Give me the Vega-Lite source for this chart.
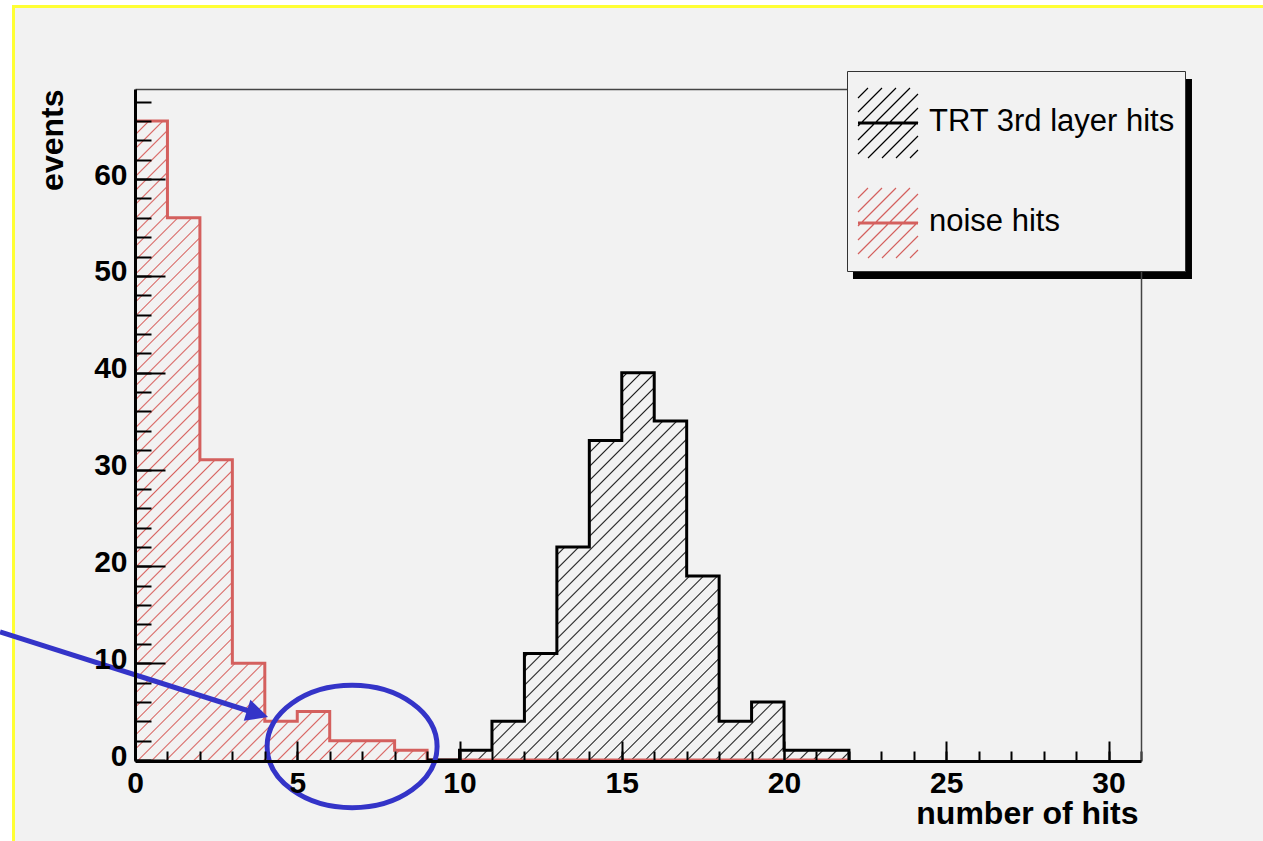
{
  "$schema": "https://vega.github.io/schema/vega-lite/v6.json",
  "width": 1006,
  "height": 671,
  "autosize": "none",
  "padding": {"left": 135, "top": 89, "right": 122, "bottom": 81},
  "background": "#ffffff",
  "config": {"view": {"stroke": null}, "font": "Liberation Sans"},
  "datasets": {
    "hist": [
      {"series": "noise hits", "bin": 0, "count": 66},
      {"series": "noise hits", "bin": 1, "count": 56},
      {"series": "noise hits", "bin": 2, "count": 31},
      {"series": "noise hits", "bin": 3, "count": 10},
      {"series": "noise hits", "bin": 4, "count": 4},
      {"series": "noise hits", "bin": 5, "count": 5},
      {"series": "noise hits", "bin": 6, "count": 2},
      {"series": "noise hits", "bin": 7, "count": 2},
      {"series": "noise hits", "bin": 8, "count": 1},
      {"series": "noise hits", "bin": 9, "count": 0},
      {"series": "noise hits", "bin": 10, "count": 0},
      {"series": "noise hits", "bin": 11, "count": 0},
      {"series": "noise hits", "bin": 12, "count": 0},
      {"series": "noise hits", "bin": 13, "count": 0},
      {"series": "noise hits", "bin": 14, "count": 0},
      {"series": "noise hits", "bin": 15, "count": 0},
      {"series": "noise hits", "bin": 16, "count": 0},
      {"series": "noise hits", "bin": 17, "count": 0},
      {"series": "noise hits", "bin": 18, "count": 0},
      {"series": "noise hits", "bin": 19, "count": 0},
      {"series": "noise hits", "bin": 20, "count": 0},
      {"series": "noise hits", "bin": 21, "count": 0},
      {"series": "noise hits", "bin": 22, "count": 0},
      {"series": "TRT 3rd layer hits", "bin": 9, "count": 0},
      {"series": "TRT 3rd layer hits", "bin": 10, "count": 1},
      {"series": "TRT 3rd layer hits", "bin": 11, "count": 4},
      {"series": "TRT 3rd layer hits", "bin": 12, "count": 11},
      {"series": "TRT 3rd layer hits", "bin": 13, "count": 22},
      {"series": "TRT 3rd layer hits", "bin": 14, "count": 33},
      {"series": "TRT 3rd layer hits", "bin": 15, "count": 40},
      {"series": "TRT 3rd layer hits", "bin": 16, "count": 35},
      {"series": "TRT 3rd layer hits", "bin": 17, "count": 19},
      {"series": "TRT 3rd layer hits", "bin": 18, "count": 4},
      {"series": "TRT 3rd layer hits", "bin": 19, "count": 6},
      {"series": "TRT 3rd layer hits", "bin": 20, "count": 1},
      {"series": "TRT 3rd layer hits", "bin": 21, "count": 1},
      {"series": "TRT 3rd layer hits", "bin": 22, "count": 0}
    ]
  },
  "data": {"name": "hist"},
  "resolve": {"axis": {"x": "independent", "y": "independent"}},
  "layer": [
    {
      "data": {"values": [{}]},
      "mark": {"type": "rect", "fill": "#f2f2f2", "stroke": "#ffff33", "strokeWidth": 3, "clip": false},
      "encoding": {
        "x": {"datum": -3.744, "type": "quantitative", "scale": {"domain": [0, 31], "nice": false, "zero": false}, "axis": null},
        "x2": {"datum": 35.9},
        "y": {"datum": 77.82, "type": "quantitative", "scale": {"domain": [0, 69.3], "nice": false, "zero": false}, "axis": null},
        "y2": {"datum": -14.46}
      }
    },
    {
      "data": {"values": [{}]},
      "mark": {"type": "rect", "fill": "#000000", "clip": false},
      "encoding": {
        "x": {"datum": 22.125, "type": "quantitative", "scale": {"domain": [0, 31], "nice": false, "zero": false}, "axis": null},
        "x2": {"datum": 32.571},
        "y": {"datum": 70.33, "type": "quantitative", "scale": {"domain": [0, 69.3], "nice": false, "zero": false}, "axis": null},
        "y2": {"datum": 49.68}
      }
    },
    {
      "transform": [{"filter": "datum.series === 'noise hits' && datum.bin <= 9"}],
      "mark": {
        "type": "area",
        "interpolate": "step-after",
        "fill": {
          "gradient": "linear", "x1": 0, "y1": 0, "x2": 0.55084, "y2": 1.20528,
          "stops": [
            {"offset": 0, "color": "#f2f2f2"},
            {"offset": 0.0134, "color": "#f2f2f2"}, {"offset": 0.015, "color": "#d8625f"}, {"offset": 0.0166, "color": "#f2f2f2"},
            {"offset": 0.0284, "color": "#f2f2f2"}, {"offset": 0.03, "color": "#d8625f"}, {"offset": 0.0316, "color": "#f2f2f2"},
            {"offset": 0.0434, "color": "#f2f2f2"}, {"offset": 0.045, "color": "#d8625f"}, {"offset": 0.0466, "color": "#f2f2f2"},
            {"offset": 0.0584, "color": "#f2f2f2"}, {"offset": 0.06, "color": "#d8625f"}, {"offset": 0.0616, "color": "#f2f2f2"},
            {"offset": 0.0734, "color": "#f2f2f2"}, {"offset": 0.075, "color": "#d8625f"}, {"offset": 0.0766, "color": "#f2f2f2"},
            {"offset": 0.0884, "color": "#f2f2f2"}, {"offset": 0.09, "color": "#d8625f"}, {"offset": 0.0916, "color": "#f2f2f2"},
            {"offset": 0.1034, "color": "#f2f2f2"}, {"offset": 0.105, "color": "#d8625f"}, {"offset": 0.1066, "color": "#f2f2f2"},
            {"offset": 0.1184, "color": "#f2f2f2"}, {"offset": 0.12, "color": "#d8625f"}, {"offset": 0.1216, "color": "#f2f2f2"},
            {"offset": 0.1334, "color": "#f2f2f2"}, {"offset": 0.135, "color": "#d8625f"}, {"offset": 0.1366, "color": "#f2f2f2"},
            {"offset": 0.1484, "color": "#f2f2f2"}, {"offset": 0.15, "color": "#d8625f"}, {"offset": 0.1516, "color": "#f2f2f2"},
            {"offset": 0.1634, "color": "#f2f2f2"}, {"offset": 0.165, "color": "#d8625f"}, {"offset": 0.1666, "color": "#f2f2f2"},
            {"offset": 0.1784, "color": "#f2f2f2"}, {"offset": 0.18, "color": "#d8625f"}, {"offset": 0.1816, "color": "#f2f2f2"},
            {"offset": 0.1934, "color": "#f2f2f2"}, {"offset": 0.195, "color": "#d8625f"}, {"offset": 0.1966, "color": "#f2f2f2"},
            {"offset": 0.2084, "color": "#f2f2f2"}, {"offset": 0.21, "color": "#d8625f"}, {"offset": 0.2116, "color": "#f2f2f2"},
            {"offset": 0.2234, "color": "#f2f2f2"}, {"offset": 0.225, "color": "#d8625f"}, {"offset": 0.2266, "color": "#f2f2f2"},
            {"offset": 0.2384, "color": "#f2f2f2"}, {"offset": 0.24, "color": "#d8625f"}, {"offset": 0.2416, "color": "#f2f2f2"},
            {"offset": 0.2534, "color": "#f2f2f2"}, {"offset": 0.255, "color": "#d8625f"}, {"offset": 0.2566, "color": "#f2f2f2"},
            {"offset": 0.2684, "color": "#f2f2f2"}, {"offset": 0.27, "color": "#d8625f"}, {"offset": 0.2716, "color": "#f2f2f2"},
            {"offset": 0.2834, "color": "#f2f2f2"}, {"offset": 0.285, "color": "#d8625f"}, {"offset": 0.2866, "color": "#f2f2f2"},
            {"offset": 0.2984, "color": "#f2f2f2"}, {"offset": 0.3, "color": "#d8625f"}, {"offset": 0.3016, "color": "#f2f2f2"},
            {"offset": 0.3134, "color": "#f2f2f2"}, {"offset": 0.315, "color": "#d8625f"}, {"offset": 0.3166, "color": "#f2f2f2"},
            {"offset": 0.3284, "color": "#f2f2f2"}, {"offset": 0.33, "color": "#d8625f"}, {"offset": 0.3316, "color": "#f2f2f2"},
            {"offset": 0.3434, "color": "#f2f2f2"}, {"offset": 0.345, "color": "#d8625f"}, {"offset": 0.3466, "color": "#f2f2f2"},
            {"offset": 0.3584, "color": "#f2f2f2"}, {"offset": 0.36, "color": "#d8625f"}, {"offset": 0.3616, "color": "#f2f2f2"},
            {"offset": 0.3734, "color": "#f2f2f2"}, {"offset": 0.375, "color": "#d8625f"}, {"offset": 0.3766, "color": "#f2f2f2"},
            {"offset": 0.3884, "color": "#f2f2f2"}, {"offset": 0.39, "color": "#d8625f"}, {"offset": 0.3916, "color": "#f2f2f2"},
            {"offset": 0.4034, "color": "#f2f2f2"}, {"offset": 0.405, "color": "#d8625f"}, {"offset": 0.4066, "color": "#f2f2f2"},
            {"offset": 0.4184, "color": "#f2f2f2"}, {"offset": 0.42, "color": "#d8625f"}, {"offset": 0.4216, "color": "#f2f2f2"},
            {"offset": 0.4334, "color": "#f2f2f2"}, {"offset": 0.435, "color": "#d8625f"}, {"offset": 0.4366, "color": "#f2f2f2"},
            {"offset": 0.4484, "color": "#f2f2f2"}, {"offset": 0.45, "color": "#d8625f"}, {"offset": 0.4516, "color": "#f2f2f2"},
            {"offset": 0.4634, "color": "#f2f2f2"}, {"offset": 0.465, "color": "#d8625f"}, {"offset": 0.4666, "color": "#f2f2f2"},
            {"offset": 0.4784, "color": "#f2f2f2"}, {"offset": 0.48, "color": "#d8625f"}, {"offset": 0.4816, "color": "#f2f2f2"},
            {"offset": 0.4934, "color": "#f2f2f2"}, {"offset": 0.495, "color": "#d8625f"}, {"offset": 0.4966, "color": "#f2f2f2"},
            {"offset": 0.5084, "color": "#f2f2f2"}, {"offset": 0.51, "color": "#d8625f"}, {"offset": 0.5116, "color": "#f2f2f2"},
            {"offset": 0.5234, "color": "#f2f2f2"}, {"offset": 0.525, "color": "#d8625f"}, {"offset": 0.5266, "color": "#f2f2f2"},
            {"offset": 0.5384, "color": "#f2f2f2"}, {"offset": 0.54, "color": "#d8625f"}, {"offset": 0.5416, "color": "#f2f2f2"},
            {"offset": 0.5534, "color": "#f2f2f2"}, {"offset": 0.555, "color": "#d8625f"}, {"offset": 0.5566, "color": "#f2f2f2"},
            {"offset": 0.5684, "color": "#f2f2f2"}, {"offset": 0.57, "color": "#d8625f"}, {"offset": 0.5716, "color": "#f2f2f2"},
            {"offset": 0.5834, "color": "#f2f2f2"}, {"offset": 0.585, "color": "#d8625f"}, {"offset": 0.5866, "color": "#f2f2f2"},
            {"offset": 0.5984, "color": "#f2f2f2"}, {"offset": 0.6, "color": "#d8625f"}, {"offset": 0.6016, "color": "#f2f2f2"},
            {"offset": 0.6134, "color": "#f2f2f2"}, {"offset": 0.615, "color": "#d8625f"}, {"offset": 0.6166, "color": "#f2f2f2"},
            {"offset": 0.6284, "color": "#f2f2f2"}, {"offset": 0.63, "color": "#d8625f"}, {"offset": 0.6316, "color": "#f2f2f2"},
            {"offset": 0.6434, "color": "#f2f2f2"}, {"offset": 0.645, "color": "#d8625f"}, {"offset": 0.6466, "color": "#f2f2f2"},
            {"offset": 0.6584, "color": "#f2f2f2"}, {"offset": 0.66, "color": "#d8625f"}, {"offset": 0.6616, "color": "#f2f2f2"},
            {"offset": 0.6734, "color": "#f2f2f2"}, {"offset": 0.675, "color": "#d8625f"}, {"offset": 0.6766, "color": "#f2f2f2"},
            {"offset": 0.6884, "color": "#f2f2f2"}, {"offset": 0.69, "color": "#d8625f"}, {"offset": 0.6916, "color": "#f2f2f2"},
            {"offset": 0.7034, "color": "#f2f2f2"}, {"offset": 0.705, "color": "#d8625f"}, {"offset": 0.7066, "color": "#f2f2f2"},
            {"offset": 0.7184, "color": "#f2f2f2"}, {"offset": 0.72, "color": "#d8625f"}, {"offset": 0.7216, "color": "#f2f2f2"},
            {"offset": 0.7334, "color": "#f2f2f2"}, {"offset": 0.735, "color": "#d8625f"}, {"offset": 0.7366, "color": "#f2f2f2"},
            {"offset": 0.7484, "color": "#f2f2f2"}, {"offset": 0.75, "color": "#d8625f"}, {"offset": 0.7516, "color": "#f2f2f2"},
            {"offset": 0.7634, "color": "#f2f2f2"}, {"offset": 0.765, "color": "#d8625f"}, {"offset": 0.7666, "color": "#f2f2f2"},
            {"offset": 0.7784, "color": "#f2f2f2"}, {"offset": 0.78, "color": "#d8625f"}, {"offset": 0.7816, "color": "#f2f2f2"},
            {"offset": 0.7934, "color": "#f2f2f2"}, {"offset": 0.795, "color": "#d8625f"}, {"offset": 0.7966, "color": "#f2f2f2"},
            {"offset": 0.8084, "color": "#f2f2f2"}, {"offset": 0.81, "color": "#d8625f"}, {"offset": 0.8116, "color": "#f2f2f2"},
            {"offset": 0.8234, "color": "#f2f2f2"}, {"offset": 0.825, "color": "#d8625f"}, {"offset": 0.8266, "color": "#f2f2f2"},
            {"offset": 0.8384, "color": "#f2f2f2"}, {"offset": 0.84, "color": "#d8625f"}, {"offset": 0.8416, "color": "#f2f2f2"},
            {"offset": 0.8534, "color": "#f2f2f2"}, {"offset": 0.855, "color": "#d8625f"}, {"offset": 0.8566, "color": "#f2f2f2"},
            {"offset": 0.8684, "color": "#f2f2f2"}, {"offset": 0.87, "color": "#d8625f"}, {"offset": 0.8716, "color": "#f2f2f2"},
            {"offset": 0.8834, "color": "#f2f2f2"}, {"offset": 0.885, "color": "#d8625f"}, {"offset": 0.8866, "color": "#f2f2f2"},
            {"offset": 0.8984, "color": "#f2f2f2"}, {"offset": 0.9, "color": "#d8625f"}, {"offset": 0.9016, "color": "#f2f2f2"},
            {"offset": 0.9134, "color": "#f2f2f2"}, {"offset": 0.915, "color": "#d8625f"}, {"offset": 0.9166, "color": "#f2f2f2"},
            {"offset": 0.9284, "color": "#f2f2f2"}, {"offset": 0.93, "color": "#d8625f"}, {"offset": 0.9316, "color": "#f2f2f2"},
            {"offset": 0.9434, "color": "#f2f2f2"}, {"offset": 0.945, "color": "#d8625f"}, {"offset": 0.9466, "color": "#f2f2f2"},
            {"offset": 0.9584, "color": "#f2f2f2"}, {"offset": 0.96, "color": "#d8625f"}, {"offset": 0.9616, "color": "#f2f2f2"},
            {"offset": 0.9734, "color": "#f2f2f2"}, {"offset": 0.975, "color": "#d8625f"}, {"offset": 0.9766, "color": "#f2f2f2"},
            {"offset": 0.9884, "color": "#f2f2f2"}, {"offset": 0.99, "color": "#d8625f"}, {"offset": 0.9916, "color": "#f2f2f2"},
            {"offset": 1, "color": "#f2f2f2"}
          ]
        }
      },
      "encoding": {
        "x": {"field": "bin", "type": "quantitative", "scale": {"domain": [0, 31], "nice": false, "zero": false},
          "axis": {"orient": "top", "domain": true, "domainColor": "#444444", "domainWidth": 1.5, "ticks": false, "labels": false, "title": null, "grid": false, "zindex": 1}},
        "y": {"field": "count", "type": "quantitative", "scale": {"domain": [0, 69.3], "nice": false, "zero": false},
          "axis": {"orient": "right", "domain": true, "domainColor": "#444444", "domainWidth": 1.5, "ticks": false, "labels": false, "title": null, "grid": false, "zindex": 1}}
      }
    },
    {
      "transform": [{"filter": "datum.series === 'TRT 3rd layer hits' && datum.bin >= 10"}],
      "mark": {
        "type": "area",
        "interpolate": "step-after",
        "fill": {
          "gradient": "linear", "x1": 0, "y1": 0, "x2": 1.00273, "y2": 0.99726,
          "stops": [
            {"offset": 0, "color": "#f2f2f2"},
            {"offset": 0.0161, "color": "#f2f2f2"}, {"offset": 0.018, "color": "#1a1a1a"}, {"offset": 0.0199, "color": "#f2f2f2"},
            {"offset": 0.0341, "color": "#f2f2f2"}, {"offset": 0.036, "color": "#1a1a1a"}, {"offset": 0.0379, "color": "#f2f2f2"},
            {"offset": 0.0521, "color": "#f2f2f2"}, {"offset": 0.054, "color": "#1a1a1a"}, {"offset": 0.0559, "color": "#f2f2f2"},
            {"offset": 0.0701, "color": "#f2f2f2"}, {"offset": 0.072, "color": "#1a1a1a"}, {"offset": 0.0739, "color": "#f2f2f2"},
            {"offset": 0.0881, "color": "#f2f2f2"}, {"offset": 0.09, "color": "#1a1a1a"}, {"offset": 0.0919, "color": "#f2f2f2"},
            {"offset": 0.1061, "color": "#f2f2f2"}, {"offset": 0.108, "color": "#1a1a1a"}, {"offset": 0.1099, "color": "#f2f2f2"},
            {"offset": 0.1241, "color": "#f2f2f2"}, {"offset": 0.126, "color": "#1a1a1a"}, {"offset": 0.1279, "color": "#f2f2f2"},
            {"offset": 0.1421, "color": "#f2f2f2"}, {"offset": 0.144, "color": "#1a1a1a"}, {"offset": 0.1459, "color": "#f2f2f2"},
            {"offset": 0.1601, "color": "#f2f2f2"}, {"offset": 0.162, "color": "#1a1a1a"}, {"offset": 0.1639, "color": "#f2f2f2"},
            {"offset": 0.1781, "color": "#f2f2f2"}, {"offset": 0.18, "color": "#1a1a1a"}, {"offset": 0.1819, "color": "#f2f2f2"},
            {"offset": 0.1961, "color": "#f2f2f2"}, {"offset": 0.198, "color": "#1a1a1a"}, {"offset": 0.1999, "color": "#f2f2f2"},
            {"offset": 0.2141, "color": "#f2f2f2"}, {"offset": 0.216, "color": "#1a1a1a"}, {"offset": 0.2179, "color": "#f2f2f2"},
            {"offset": 0.2321, "color": "#f2f2f2"}, {"offset": 0.234, "color": "#1a1a1a"}, {"offset": 0.2359, "color": "#f2f2f2"},
            {"offset": 0.2501, "color": "#f2f2f2"}, {"offset": 0.252, "color": "#1a1a1a"}, {"offset": 0.2539, "color": "#f2f2f2"},
            {"offset": 0.2681, "color": "#f2f2f2"}, {"offset": 0.27, "color": "#1a1a1a"}, {"offset": 0.2719, "color": "#f2f2f2"},
            {"offset": 0.2861, "color": "#f2f2f2"}, {"offset": 0.288, "color": "#1a1a1a"}, {"offset": 0.2899, "color": "#f2f2f2"},
            {"offset": 0.3041, "color": "#f2f2f2"}, {"offset": 0.306, "color": "#1a1a1a"}, {"offset": 0.3079, "color": "#f2f2f2"},
            {"offset": 0.3221, "color": "#f2f2f2"}, {"offset": 0.324, "color": "#1a1a1a"}, {"offset": 0.3259, "color": "#f2f2f2"},
            {"offset": 0.3401, "color": "#f2f2f2"}, {"offset": 0.342, "color": "#1a1a1a"}, {"offset": 0.3439, "color": "#f2f2f2"},
            {"offset": 0.3581, "color": "#f2f2f2"}, {"offset": 0.36, "color": "#1a1a1a"}, {"offset": 0.3619, "color": "#f2f2f2"},
            {"offset": 0.3761, "color": "#f2f2f2"}, {"offset": 0.378, "color": "#1a1a1a"}, {"offset": 0.3799, "color": "#f2f2f2"},
            {"offset": 0.3941, "color": "#f2f2f2"}, {"offset": 0.396, "color": "#1a1a1a"}, {"offset": 0.3979, "color": "#f2f2f2"},
            {"offset": 0.4121, "color": "#f2f2f2"}, {"offset": 0.414, "color": "#1a1a1a"}, {"offset": 0.4159, "color": "#f2f2f2"},
            {"offset": 0.4301, "color": "#f2f2f2"}, {"offset": 0.432, "color": "#1a1a1a"}, {"offset": 0.4339, "color": "#f2f2f2"},
            {"offset": 0.4481, "color": "#f2f2f2"}, {"offset": 0.45, "color": "#1a1a1a"}, {"offset": 0.4519, "color": "#f2f2f2"},
            {"offset": 0.4661, "color": "#f2f2f2"}, {"offset": 0.468, "color": "#1a1a1a"}, {"offset": 0.4699, "color": "#f2f2f2"},
            {"offset": 0.4841, "color": "#f2f2f2"}, {"offset": 0.486, "color": "#1a1a1a"}, {"offset": 0.4879, "color": "#f2f2f2"},
            {"offset": 0.5021, "color": "#f2f2f2"}, {"offset": 0.504, "color": "#1a1a1a"}, {"offset": 0.5059, "color": "#f2f2f2"},
            {"offset": 0.5201, "color": "#f2f2f2"}, {"offset": 0.522, "color": "#1a1a1a"}, {"offset": 0.5239, "color": "#f2f2f2"},
            {"offset": 0.5381, "color": "#f2f2f2"}, {"offset": 0.54, "color": "#1a1a1a"}, {"offset": 0.5419, "color": "#f2f2f2"},
            {"offset": 0.5561, "color": "#f2f2f2"}, {"offset": 0.558, "color": "#1a1a1a"}, {"offset": 0.5599, "color": "#f2f2f2"},
            {"offset": 0.5741, "color": "#f2f2f2"}, {"offset": 0.576, "color": "#1a1a1a"}, {"offset": 0.5779, "color": "#f2f2f2"},
            {"offset": 0.5921, "color": "#f2f2f2"}, {"offset": 0.594, "color": "#1a1a1a"}, {"offset": 0.5959, "color": "#f2f2f2"},
            {"offset": 0.6101, "color": "#f2f2f2"}, {"offset": 0.612, "color": "#1a1a1a"}, {"offset": 0.6139, "color": "#f2f2f2"},
            {"offset": 0.6281, "color": "#f2f2f2"}, {"offset": 0.63, "color": "#1a1a1a"}, {"offset": 0.6319, "color": "#f2f2f2"},
            {"offset": 0.6461, "color": "#f2f2f2"}, {"offset": 0.648, "color": "#1a1a1a"}, {"offset": 0.6499, "color": "#f2f2f2"},
            {"offset": 0.6641, "color": "#f2f2f2"}, {"offset": 0.666, "color": "#1a1a1a"}, {"offset": 0.6679, "color": "#f2f2f2"},
            {"offset": 0.6821, "color": "#f2f2f2"}, {"offset": 0.684, "color": "#1a1a1a"}, {"offset": 0.6859, "color": "#f2f2f2"},
            {"offset": 0.7001, "color": "#f2f2f2"}, {"offset": 0.702, "color": "#1a1a1a"}, {"offset": 0.7039, "color": "#f2f2f2"},
            {"offset": 0.7181, "color": "#f2f2f2"}, {"offset": 0.72, "color": "#1a1a1a"}, {"offset": 0.7219, "color": "#f2f2f2"},
            {"offset": 0.7361, "color": "#f2f2f2"}, {"offset": 0.738, "color": "#1a1a1a"}, {"offset": 0.7399, "color": "#f2f2f2"},
            {"offset": 0.7541, "color": "#f2f2f2"}, {"offset": 0.756, "color": "#1a1a1a"}, {"offset": 0.7579, "color": "#f2f2f2"},
            {"offset": 0.7721, "color": "#f2f2f2"}, {"offset": 0.774, "color": "#1a1a1a"}, {"offset": 0.7759, "color": "#f2f2f2"},
            {"offset": 0.7901, "color": "#f2f2f2"}, {"offset": 0.792, "color": "#1a1a1a"}, {"offset": 0.7939, "color": "#f2f2f2"},
            {"offset": 0.8081, "color": "#f2f2f2"}, {"offset": 0.81, "color": "#1a1a1a"}, {"offset": 0.8119, "color": "#f2f2f2"},
            {"offset": 0.8261, "color": "#f2f2f2"}, {"offset": 0.828, "color": "#1a1a1a"}, {"offset": 0.8299, "color": "#f2f2f2"},
            {"offset": 0.8441, "color": "#f2f2f2"}, {"offset": 0.846, "color": "#1a1a1a"}, {"offset": 0.8479, "color": "#f2f2f2"},
            {"offset": 0.8621, "color": "#f2f2f2"}, {"offset": 0.864, "color": "#1a1a1a"}, {"offset": 0.8659, "color": "#f2f2f2"},
            {"offset": 0.8801, "color": "#f2f2f2"}, {"offset": 0.882, "color": "#1a1a1a"}, {"offset": 0.8839, "color": "#f2f2f2"},
            {"offset": 0.8981, "color": "#f2f2f2"}, {"offset": 0.9, "color": "#1a1a1a"}, {"offset": 0.9019, "color": "#f2f2f2"},
            {"offset": 0.9161, "color": "#f2f2f2"}, {"offset": 0.918, "color": "#1a1a1a"}, {"offset": 0.9199, "color": "#f2f2f2"},
            {"offset": 0.9341, "color": "#f2f2f2"}, {"offset": 0.936, "color": "#1a1a1a"}, {"offset": 0.9379, "color": "#f2f2f2"},
            {"offset": 0.9521, "color": "#f2f2f2"}, {"offset": 0.954, "color": "#1a1a1a"}, {"offset": 0.9559, "color": "#f2f2f2"},
            {"offset": 0.9701, "color": "#f2f2f2"}, {"offset": 0.972, "color": "#1a1a1a"}, {"offset": 0.9739, "color": "#f2f2f2"},
            {"offset": 0.9881, "color": "#f2f2f2"}, {"offset": 0.99, "color": "#1a1a1a"}, {"offset": 0.9919, "color": "#f2f2f2"},
            {"offset": 1, "color": "#f2f2f2"}
          ]
        }
      },
      "encoding": {
        "x": {"field": "bin", "type": "quantitative", "scale": {"domain": [0, 31], "nice": false, "zero": false},
          "axis": {"orient": "bottom", "offset": 1, "values": [0,1,2,3,4,5,6,7,8,9,10,11,12,13,14,15,16,17,18,19,20,21,22,23,24,25,26,27,28,29,30,31],
            "domain": false, "ticks": true, "tickSize": -10, "tickWidth": 2, "tickColor": "#000000", "labels": false, "title": null, "grid": false, "zindex": 1}},
        "y": {"field": "count", "type": "quantitative", "scale": {"domain": [0, 69.3], "nice": false, "zero": false},
          "axis": {"orient": "left", "values": [0,2,4,6,8,10,12,14,16,18,20,22,24,26,28,30,32,34,36,38,40,42,44,46,48,50,52,54,56,58,60,62,64,66,68],
            "domain": false, "ticks": true, "tickSize": -16, "tickWidth": 2, "tickColor": "#000000", "labels": false, "title": null, "grid": false, "zindex": 1}}
      }
    },
    {
      "mark": {"type": "line", "interpolate": "step-after"},
      "encoding": {
        "x": {"field": "bin", "type": "quantitative", "scale": {"domain": [0, 31], "nice": false, "zero": false},
          "axis": {"orient": "bottom", "offset": 1, "values": [0, 5, 10, 15, 20, 25, 30],
            "domain": true, "domainColor": "#000000", "domainWidth": 3,
            "ticks": true, "tickSize": -20, "tickWidth": 2, "tickColor": "#000000",
            "labels": true, "labelFont": "Liberation Sans", "labelFontWeight": "bold", "labelFontSize": 30, "labelColor": "#000000",
            "labelPadding": 27, "labelBaseline": "top", "labelAlign": "center", "labelFlush": false, "labelOverlap": false, "labelBound": false,
            "title": "number of hits", "titleFont": "Liberation Sans", "titleFontWeight": "bold", "titleFontSize": 32, "titleColor": "#000000",
            "titleAnchor": "end", "titleAlign": "right", "titleBaseline": "alphabetic", "titleX": 1003, "titleY": 62,
            "grid": false, "zindex": 1}},
        "y": {"field": "count", "type": "quantitative", "scale": {"domain": [0, 69.3], "nice": false, "zero": false},
          "axis": {"orient": "left", "values": [0, 10, 20, 30, 40, 50, 60],
            "domain": true, "domainColor": "#000000", "domainWidth": 3,
            "ticks": true, "tickSize": -30, "tickWidth": 2, "tickColor": "#000000",
            "labels": true, "labelFont": "Liberation Sans", "labelFontWeight": "bold", "labelFontSize": 30, "labelColor": "#000000",
            "labelPadding": 38, "labelAlign": "right", "labelBaseline": "middle", "labelOffset": -4, "labelOverlap": false, "labelBound": false, "labelFlush": false,
            "title": "events", "titleFont": "Liberation Sans", "titleFontWeight": "bold", "titleFontSize": 32, "titleColor": "#000000",
            "titleAngle": 270, "titleAnchor": "end", "titleAlign": "right", "titleBaseline": "alphabetic", "titleX": -73, "titleY": 0,
            "grid": false, "zindex": 1}},
        "color": {"field": "series", "type": "nominal",
          "scale": {"domain": ["TRT 3rd layer hits", "noise hits"], "range": ["#000000", "#d4605e"]},
          "legend": {"orient": "none", "legendX": 712, "legendY": -18, "direction": "vertical", "title": null,
            "padding": 10, "fillColor": "#f2f2f2", "strokeColor": "#333333",
            "labelFont": "Liberation Sans", "labelFontSize": 31, "labelColor": "#000000", "labelOffset": -10, "labelLimit": 400,
            "symbolType": "M-1 -0.6L-0.75 -0.85M-1 -0.25L-0.4 -0.85M-1 0.1L-0.05 -0.85M-1 0.45L0.3 -0.85M-1 0.8L0.5 -0.7M-0.75 0.9L0.5 -0.35M-0.4 0.9L0.5 0M-0.05 0.9L0.5 0.35M0.3 0.9L0.5 0.7M-1 0L0.5 0M-1 0.025L0.5 0.025M-1 0.05L0.5 0.05",
            "symbolSize": 6400, "symbolStrokeWidth": 1.2, "symbolFillColor": "transparent", "rowPadding": 20, "zindex": 3}},
        "strokeWidth": {"value": 3}
      }
    },
    {
      "data": {"values": [{"x": 6.69, "y": 1.39}]},
      "mark": {"type": "point", "shape": "M-1 0A1 0.72 0 1 0 1 0A1 0.72 0 1 0 -1 0Z", "size": 28900, "filled": false, "stroke": "#3434c8", "strokeWidth": 5, "opacity": 1},
      "encoding": {
        "x": {"field": "x", "type": "quantitative", "scale": {"domain": [0, 31], "nice": false, "zero": false}, "axis": null},
        "y": {"field": "y", "type": "quantitative", "scale": {"domain": [0, 69.3], "nice": false, "zero": false}, "axis": null}
      }
    },
    {
      "data": {"values": [{"x": -4.16, "y": 13.22, "x2": 3.51, "y2": 5.06}]},
      "mark": {"type": "rule", "stroke": "#3434c8", "strokeWidth": 5},
      "encoding": {
        "x": {"field": "x", "type": "quantitative", "scale": {"domain": [0, 31], "nice": false, "zero": false}, "axis": null},
        "y": {"field": "y", "type": "quantitative", "scale": {"domain": [0, 69.3], "nice": false, "zero": false}, "axis": null},
        "x2": {"field": "x2"},
        "y2": {"field": "y2"}
      }
    },
    {
      "data": {"values": [{"x": 4.1, "y": 4.44}]},
      "mark": {"type": "point", "shape": "M0 0L-1 -0.5L-1 0.5Z", "size": 1936, "filled": true, "fill": "#3434c8", "strokeWidth": 0, "angle": 17.6, "opacity": 1},
      "encoding": {
        "x": {"field": "x", "type": "quantitative", "scale": {"domain": [0, 31], "nice": false, "zero": false}, "axis": null},
        "y": {"field": "y", "type": "quantitative", "scale": {"domain": [0, 69.3], "nice": false, "zero": false}, "axis": null}
      }
    }
  ]
}
